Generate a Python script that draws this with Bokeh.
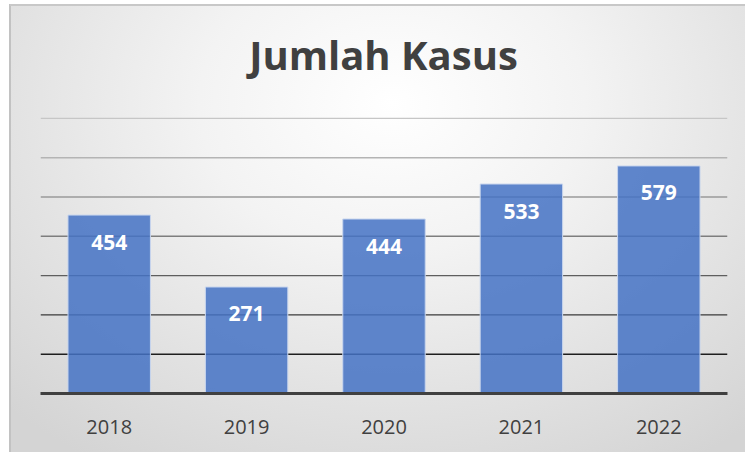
from bokeh.plotting import figure
from bokeh.models import Range1d, Span, ColumnDataSource, Label
from bokeh.core.properties import value
from bokeh.embed import file_html
from bokeh.resources import INLINE

# ---- data ----
title_text = "Jumlah Kasus"
years = ["2018", "2019", "2020", "2021", "2022"]
kasus = [454, 271, 444, 533, 579]
labels = [str(v) for v in kasus]
grid_values = [100, 200, 300, 400, 500, 600, 700]
grid_colors = ["#1e1e1e", "#3a3a3a", "#5e5e5e", "#7e7e7e", "#9a9a9a", "#b4b4b4", "#c6c6c6"]

src = ColumnDataSource(data=dict(x=years, top=kasus, label=labels))

# the frame reaches the top of the canvas; the region above 700 holds the title
p = figure(
    x_range=years,
    y_range=Range1d(0, 1000),
    width=745,
    height=452,
    output_backend="svg",
    toolbar_location=None,
    min_border_left=40,
    min_border_right=18,
    min_border_top=0,
    min_border_bottom=59,
)
p.title = None
p.x_range.range_padding = 0

p.styles = {
    "background": (
        "linear-gradient(#c8c8c8, #c8c8c8) 10px 4px / 100% 2px no-repeat, "
        "linear-gradient(#c2c2c2, #c2c2c2) 9px 4px / 2px 100% no-repeat, "
        "radial-gradient(ellipse 75% 95% at 52% 22%, #ffffff 0%, #f3f3f3 35%, #e2e2e2 70%, #d4d4d4 100%) "
        "10px 5px / calc(100% - 10px) calc(100% - 5px) no-repeat, #ffffff"
    ),
}
p.background_fill_alpha = 0
p.border_fill_alpha = 0
p.outline_line_color = None

# title, placed in screen pixels (from the bottom-left of the frame)
title = Label(x=343, y=339, x_units="screen", y_units="screen",
              text=title_text, text_align="center", text_baseline="middle",
              text_font="Open Sans", text_font_style="bold", text_font_size="40px",
              text_color="#404040")
p.add_layout(title)

# gridlines (gradient-coloured, drawn behind bars)
p.xgrid.grid_line_color = None
p.ygrid.grid_line_color = None
for gv, gc in zip(grid_values, grid_colors):
    p.add_layout(Span(location=gv, dimension="width", line_color=gc, line_width=1.4, level="underlay"))

# bars
p.vbar(x="x", top="top", width=0.6, source=src,
       fill_color="#4472C4", fill_alpha=0.85, line_color="#c9d6ee", line_width=1)

# data labels
p.text(x="x", y="top", text="label", source=src,
       text_align="center", text_baseline="middle", y_offset=27,
       text_color="white", text_font=value("Open Sans"), text_font_style="bold",
       text_font_size="21px")

# axes
p.yaxis.visible = False
xa = p.xaxis[0]
xa.axis_line_color = "#404040"
xa.axis_line_width = 3
xa.major_tick_line_color = None
xa.minor_tick_line_color = None
xa.major_label_text_font = "Open Sans"
xa.major_label_text_font_size = "20px"
xa.major_label_text_color = "#404040"
xa.major_label_standoff = 20

open("out.html", "w").write(file_html(p, INLINE))
